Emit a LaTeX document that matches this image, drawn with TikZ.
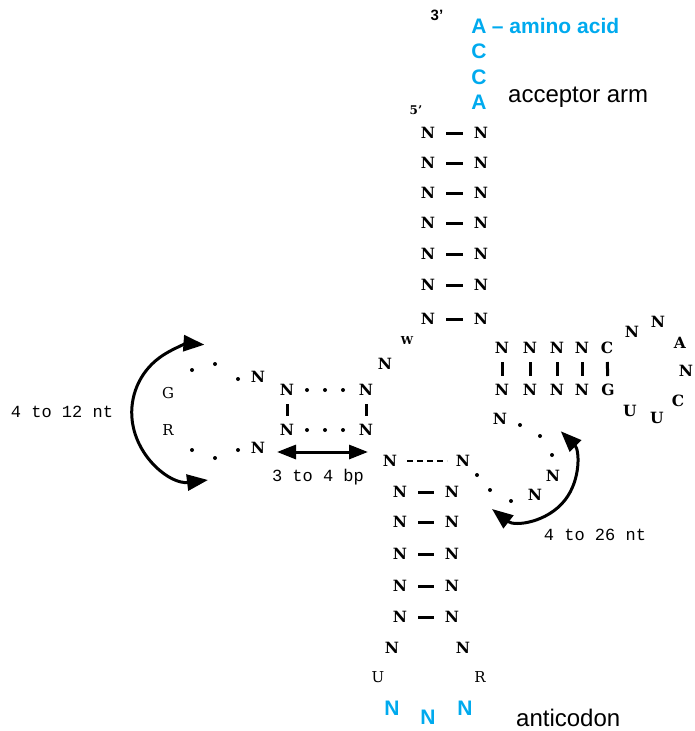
\documentclass[tikz,border=0pt]{standalone}
\usepackage{fontspec}
\setmainfont{Liberation Serif}
\setsansfont{Liberation Sans}
\setmonofont{Liberation Mono}
\newfontfamily\baseface{DejaVu Serif}
\usetikzlibrary{positioning,arrows.meta}
\definecolor{trnablue}{RGB}{0,170,238}

\begin{document}
\begin{tikzpicture}[x=1pt, y=-1pt, node distance=53pt,
	nt/.style={font=\fontsize{15.5}{15.5}\selectfont\baseface\bfseries, inner sep=1pt},
	ntl/.style={font=\fontsize{15}{15}\selectfont\baseface, inner sep=1pt},
	ntw/.style={font=\fontsize{11}{11}\selectfont\baseface\bfseries, inner sep=1pt},
	acc/.style={font=\fontsize{21}{21}\selectfont\sffamily\bfseries, text=trnablue, inner sep=1pt},
	prime/.style={font=\fontsize{15}{15}\selectfont\sffamily\bfseries, inner sep=0pt},
	note/.style={font=\fontsize{24}{24}\selectfont\sffamily, inner sep=0pt},
	span/.style={font=\fontsize{17}{17}\selectfont\ttfamily, inner sep=0pt},
	hbar/.style={line width=3pt, shorten <=18pt, shorten >=18pt},
	vbar/.style={line width=3pt, shorten <=14pt, shorten >=14pt},
	dotpair/.style={line width=4pt, line cap=round, dash pattern=on 0pt off 18pt, shorten <=20pt, shorten >=20pt},
	dashpair/.style={line width=2.5pt, dash pattern=on 6pt off 4pt, shorten <=17pt, shorten >=16pt},
	span arrow/.style={line width=3pt, {Triangle[length=21pt,width=16pt]}-{Triangle[length=21pt,width=16pt]}},
	bp arrow/.style={line width=3pt, {Triangle[length=19pt,width=14pt]}-{Triangle[length=19pt,width=14pt]}}]
	\useasboundingbox (0,0) rectangle (695,731);

	% 3' end and acceptor arm
	\node[prime] (p3) at (437,15) {3’};
	\node[acc] (n76) at (479,26) {A};
	\node[acc, anchor=base west] (aa) at ([xshift=3pt]n76.base east) {– amino acid};
	\node[acc] (n75) at (479,51) {C};
	\node[acc] (n74) at (479,77) {C};
	\node[acc] (n73) at (479,102) {A};
	\node[note, anchor=base west] (arm) at (508,102) {acceptor arm};
	\node[prime, font=\fontsize{12}{12}\selectfont\baseface\bfseries] (p5) at (416,110) {5’};

	\node[nt] (a1) at (428,133) {N};
	\node[nt] (b1) [right of=a1] {N};
	\node[nt] (a2) at (428,163) {N};
	\node[nt] (b2) [right of=a2] {N};
	\node[nt] (a3) at (428,193) {N};
	\node[nt] (b3) [right of=a3] {N};
	\node[nt] (a4) at (428,223) {N};
	\node[nt] (b4) [right of=a4] {N};
	\node[nt] (a5) at (428,254) {N};
	\node[nt] (b5) [right of=a5] {N};
	\node[nt] (a6) at (428,285) {N};
	\node[nt] (b6) [right of=a6] {N};
	\node[nt] (a7) at (428,319) {N};
	\node[nt] (b7) [right of=a7] {N};
	\draw[hbar] (a1.center) -- (b1.center);
	\draw[hbar] (a2.center) -- (b2.center);
	\draw[hbar] (a3.center) -- (b3.center);
	\draw[hbar] (a4.center) -- (b4.center);
	\draw[hbar] (a5.center) -- (b5.center);
	\draw[hbar] (a6.center) -- (b6.center);
	\draw[hbar] (a7.center) -- (b7.center);

	% D arm
	\node[ntw] (w8) at (407,340) {W};
	\node[nt] (n9) at (385,364) {N};
	\node[nt] (dl1) at (287,390) {N};
	\node[nt] (dr1) at (366,390) {N};
	\node[nt] (dl2) at (287,430) {N};
	\node[nt] (dr2) at (366,430) {N};
	\draw[vbar] (dl1.center) -- (dl2.center);
	\draw[vbar] (dr1.center) -- (dr2.center);
	\draw[dotpair] (dl1.center) -- (dr1.center);
	\draw[dotpair] (dl2.center) -- (dr2.center);
	\node[nt] (gn1) at (258,377) {N};
	\node[nt] (gn2) at (258,448) {N};
	\node[ntl] (g) at (168,393) {G};
	\node[ntl] (r) at (168,430) {R};
	\fill (192,370) circle (2) (215,364) circle (2) (238,379) circle (2);
	\fill (192,450) circle (2) (215,458) circle (2) (238,450) circle (2);
	\coordinate (dlb) at (208,480);
	\draw[span arrow] (dlb) arc[start angle=83, end angle=274, radius=68];
	\node[span] (dlen) at (62,412) {4 to 12 nt};
	\coordinate (bpl) at (277,452);
	\coordinate (bpr) at (368,452);
	\draw[bp arrow] (bpl) -- (bpr);
	\node[span] (blen) at (318,477) {3 to 4 bp};

	% anticodon arm
	\node[nt] (c0) at (390,461) {N};
	\node[nt] (e0) at (463,461) {N};
	\draw[dashpair] (c0.center) -- (e0.center);
	\node[nt] (c1) at (400,492) {N};
	\node[nt] (e1) [right of=c1, node distance=52pt] {N};
	\node[nt] (c2) at (400,522) {N};
	\node[nt] (e2) [right of=c2, node distance=52pt] {N};
	\node[nt] (c3) at (400,554) {N};
	\node[nt] (e3) [right of=c3, node distance=52pt] {N};
	\node[nt] (c4) at (400,586) {N};
	\node[nt] (e4) [right of=c4, node distance=52pt] {N};
	\node[nt] (c5) at (400,617) {N};
	\node[nt] (e5) [right of=c5, node distance=52pt] {N};
	\draw[hbar] (c1.center) -- (e1.center);
	\draw[hbar] (c2.center) -- (e2.center);
	\draw[hbar] (c3.center) -- (e3.center);
	\draw[hbar] (c4.center) -- (e4.center);
	\draw[hbar] (c5.center) -- (e5.center);
	\node[nt] (k1) at (392,648) {N};
	\node[nt] (k7) at (463,648) {N};
	\node[ntl] (k2) at (378,677) {U};
	\node[ntl] (k6) at (480,677) {R};
	\node[acc] (k3) at (392,708) {N};
	\node[acc] (k4) at (428,717) {N};
	\node[acc] (k5) at (465,708) {N};
	\node[note, anchor=base west] (anti) at (516,726) {anticodon};

	% variable loop
	\fill (477,475) circle (2) (490,490) circle (2) (511,501) circle (2);
	\node[nt] (v1) at (535,495) {N};
	\node[nt] (v2) at (553,476) {N};
	\fill (552,455) circle (2) (540,436) circle (2) (520,425) circle (2);
	\node[nt] (v3) at (500,419) {N};
	\coordinate (vb) at (492,509);
	\draw[span arrow] (vb) arc[start angle=128, end angle=-45, radius=52];
	\node[span] (vlen) at (595,535) {4 to 26 nt};

	% T arm
	\node[nt] (t1) at (502,348) {N};
	\node[nt] (t2) at (530,348) {N};
	\node[nt] (t3) at (557,348) {N};
	\node[nt] (t4) at (582,348) {N};
	\node[nt] (t5) at (607,348) {C};
	\node[nt] (u1) at (502,390) {N};
	\node[nt] (u2) at (530,390) {N};
	\node[nt] (u3) at (557,390) {N};
	\node[nt] (u4) at (582,390) {N};
	\node[nt] (u5) at (608,390) {G};
	\draw[vbar] (t1.center) -- (u1.center);
	\draw[vbar] (t2.center) -- (u2.center);
	\draw[vbar] (t3.center) -- (u3.center);
	\draw[vbar] (t4.center) -- (u4.center);
	\draw[vbar] (t5.center) -- (u5.center);
	\node[nt] (l1) at (632,332) {N};
	\node[nt] (l2) at (658,322) {N};
	\node[nt] (l3) at (680,343) {A};
	\node[nt] (l4) at (686,371) {N};
	\node[nt] (l5) at (678,401) {C};
	\node[nt] (l6) at (657,418) {U};
	\node[nt] (l7) at (630,411) {U};
\end{tikzpicture}
\end{document}
